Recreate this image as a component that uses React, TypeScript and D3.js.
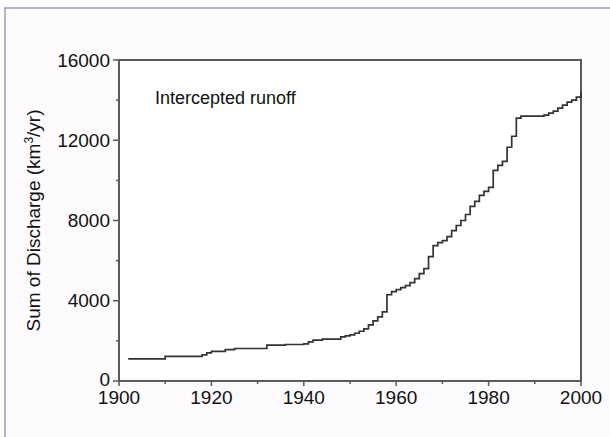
import React from "react";
import * as d3 from "d3";

// Cumulative intercepted runoff, step series
const years = [
  1902, 1910, 1918, 1919, 1920, 1923, 1925, 1932, 1936, 1940, 1941, 1942,
  1944, 1948, 1949, 1950, 1951, 1952, 1953, 1954, 1955, 1956, 1957, 1958,
  1959, 1960, 1961, 1962, 1963, 1964, 1965, 1966, 1967, 1968, 1969, 1970,
  1971, 1972, 1973, 1974, 1975, 1976, 1977, 1978, 1979, 1980, 1981, 1982,
  1983, 1984, 1985, 1986, 1987, 1992, 1993, 1994, 1995, 1996, 1997, 1998,
  1999, 2000,
];
const discharge = [
  1100, 1230, 1300, 1400, 1480, 1560, 1620, 1790, 1820, 1850, 1950, 2040,
  2090, 2200, 2250, 2300, 2380, 2480, 2600, 2800, 3000, 3200, 3450, 4300,
  4450, 4550, 4650, 4750, 4900, 5100, 5350, 5600, 6200, 6750, 6900, 7000,
  7200, 7500, 7750, 8000, 8300, 8700, 8950, 9250, 9450, 9650, 10500, 10750,
  10950, 11650, 12200, 13100, 13200, 13250, 13350, 13450, 13600, 13750,
  13900, 14000, 14150, 14400,
];

const xTicks = [1900, 1920, 1940, 1960, 1980, 2000];
const yTicks = [0, 4000, 8000, 12000, 16000];

const W = 610;
const H = 437;
const MARGIN = { top: 60, right: 29, bottom: 56, left: 119 };

const App = () => {
  const x = d3
    .scaleLinear()
    .domain([1900, 2000])
    .range([MARGIN.left, W - MARGIN.right]);
  const y = d3
    .scaleLinear()
    .domain([0, 16000])
    .range([H - MARGIN.bottom, MARGIN.top]);

  const data = years.map((yr, i) => [yr, discharge[i]] as [number, number]);
  const line = d3
    .line<[number, number]>()
    .x((d) => x(d[0]))
    .y((d) => y(d[1]))
    .curve(d3.curveStepAfter);

  const minorX = d3.range(1910, 2000, 20);
  const minorY = d3.range(2000, 16000, 4000);
  const axisColor = "#5a5a5a";
  const font = "'Liberation Sans', Arial, sans-serif";
  const x0 = MARGIN.left;
  const x1 = W - MARGIN.right;
  const y0 = H - MARGIN.bottom;
  const y1 = MARGIN.top;

  return (
    <svg
      width={W}
      height={H}
      style={{ position: "absolute", left: 0, top: 0 }}
      fontFamily={font}
    >
      <rect width={W} height={H} fill="#fdfbfd" />
      <path
        d={`M5,${H} V8 H${W}`}
        fill="none"
        stroke="#9c9cc8"
        strokeWidth={1.5}
      />

      {/* frame */}
      <rect
        x={x0}
        y={y1}
        width={x1 - x0}
        height={y0 - y1}
        fill="#ffffff"
        stroke={axisColor}
        strokeWidth={2}
      />

      {/* x ticks */}
      {xTicks.map((t) => (
        <g key={`x${t}`}>
          <line x1={x(t)} x2={x(t)} y1={y0} y2={y0 + 5} stroke={axisColor} strokeWidth={1.5} />
          <text x={x(t)} y={y0 + 23} fontSize={19} textAnchor="middle" fill="#111">
            {t}
          </text>
        </g>
      ))}
      {minorX.map((t) => (
        <line key={`mx${t}`} x1={x(t)} x2={x(t)} y1={y0} y2={y0 + 3} stroke={axisColor} strokeWidth={1.5} />
      ))}

      {/* y ticks */}
      {yTicks.map((t) => (
        <g key={`y${t}`}>
          <line x1={x0 - 6} x2={x0} y1={y(t)} y2={y(t)} stroke={axisColor} strokeWidth={1.5} />
          <text x={x0 - 9} y={t === 0 ? y(t) - 2 : y(t)} dy="0.35em" fontSize={19} textAnchor="end" fill="#111">
            {t}
          </text>
        </g>
      ))}
      {minorY.map((t) => (
        <line key={`my${t}`} x1={x0 - 3} x2={x0} y1={y(t)} y2={y(t)} stroke={axisColor} strokeWidth={1.5} />
      ))}

      <path d={line(data) ?? ""} fill="none" stroke="#333" strokeWidth={1.7} />

      <text x={155} y={104} fontSize={18} fill="#111">
        Intercepted runoff
      </text>

      <text
        transform={`translate(40,${(y0 + y1) / 2}) rotate(-90)`}
        textAnchor="middle"
        fontSize={19}
        fill="#111"
      >
        Sum of Discharge (km
        <tspan fontSize={12} dy={-7}>3</tspan>
        <tspan dy={7}>/yr)</tspan>
      </text>
    </svg>
  );
};

export default App;
